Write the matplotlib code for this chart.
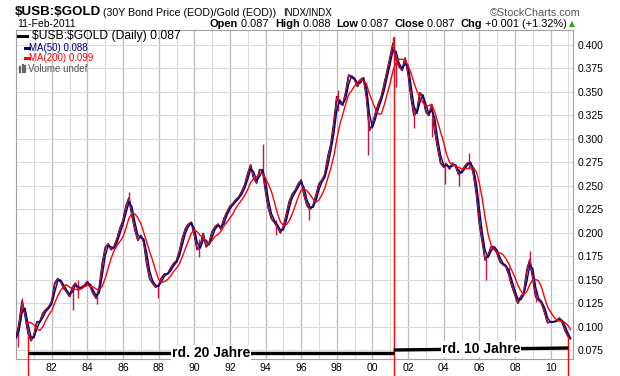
import numpy as np
import pandas as pd
import matplotlib
matplotlib.use("Agg")
import matplotlib.pyplot as plt
import matplotlib.dates as mdates
from matplotlib.lines import Line2D

plt.rcParams['font.family'] = ['Liberation Sans', 'DejaVu Sans']

# bimonthly closes of $USB:$GOLD, Jan 1980 .. Jan 2011
close = [
    0.088, 0.103, 0.127, 0.112, 0.093, 0.085,  # 1980
    0.091, 0.105, 0.105, 0.114, 0.118, 0.121,  # 1981
    0.127, 0.146, 0.151, 0.148, 0.141, 0.137,  # 1982
    0.132, 0.142, 0.146, 0.139, 0.142, 0.144,  # 1983
    0.148, 0.142, 0.135, 0.130, 0.142, 0.167,  # 1984
    0.184, 0.188, 0.182, 0.185, 0.194, 0.205,  # 1985
    0.213, 0.228, 0.237, 0.219, 0.203, 0.192,  # 1986
    0.197, 0.190, 0.167, 0.151, 0.146, 0.142,  # 1987
    0.144, 0.152, 0.156, 0.156, 0.162, 0.167,  # 1988
    0.170, 0.180, 0.194, 0.204, 0.209, 0.211,  # 1989
    0.198, 0.182, 0.185, 0.199, 0.185, 0.189,  # 1990
    0.201, 0.206, 0.209, 0.204, 0.215, 0.222,  # 1991
    0.228, 0.231, 0.235, 0.238, 0.244, 0.251,  # 1992
    0.263, 0.272, 0.258, 0.253, 0.267, 0.267,  # 1993
    0.244, 0.226, 0.215, 0.211, 0.206, 0.200,  # 1994
    0.206, 0.219, 0.233, 0.241, 0.245, 0.252,  # 1995
    0.256, 0.240, 0.229, 0.225, 0.229, 0.240,  # 1996
    0.252, 0.256, 0.262, 0.281, 0.294, 0.317,  # 1997
    0.345, 0.338, 0.336, 0.349, 0.368, 0.366,  # 1998
    0.363, 0.356, 0.363, 0.365, 0.345, 0.309,  # 1999
    0.315, 0.327, 0.337, 0.345, 0.359, 0.373,  # 2000
    0.388, 0.402, 0.384, 0.377, 0.373, 0.386,  # 2001
    0.370, 0.345, 0.325, 0.329, 0.349, 0.345,  # 2002
    0.329, 0.325, 0.336, 0.309, 0.290, 0.274,  # 2003
    0.270, 0.273, 0.268, 0.274, 0.271, 0.262,  # 2004
    0.265, 0.270, 0.274, 0.275, 0.263, 0.242,  # 2005
    0.210, 0.191, 0.171, 0.176, 0.185, 0.185,  # 2006
    0.178, 0.169, 0.166, 0.164, 0.155, 0.143,  # 2007
    0.134, 0.125, 0.132, 0.136, 0.160, 0.171,  # 2008
    0.152, 0.132, 0.128, 0.125, 0.115, 0.104,  # 2009
    0.105, 0.105, 0.106, 0.109, 0.104, 0.095,  # 2010
    0.089,                                     # 2011
]
last_date = "2011-02-11"
last_close = 0.087

# daily spikes visible in the chart: date, low, high
spike_dates = ["1980-02-01", "1980-05-01", "1983-03-01", "1983-07-01", "1984-07-15",
               "1986-05-01", "1987-12-15", "1990-04-01", "1993-11-15", "1994-08-01",
               "1996-06-01", "1998-02-01", "1999-10-01", "2001-03-01", "2001-05-01",
               "2002-05-01", "2003-05-01", "2004-02-01", "2004-11-01", "2005-06-01",
               "2006-05-15", "2007-09-01", "2008-11-01", "2009-03-01"]
spike_low = [0.078, 0.115, 0.118, 0.130, 0.124, 0.228, 0.130, 0.174, 0.262, 0.198,
             0.214, 0.330, 0.283, 0.392, 0.355, 0.312, 0.302, 0.252, 0.250, 0.268,
             0.150, 0.150, 0.160, 0.126]
spike_high = [0.095, 0.130, 0.140, 0.150, 0.138, 0.243, 0.146, 0.193, 0.294, 0.214,
              0.232, 0.352, 0.318, 0.409, 0.386, 0.335, 0.322, 0.275, 0.268, 0.285,
              0.172, 0.163, 0.180, 0.140]

tick_years = [1982, 1984, 1986, 1988, 1990, 1992, 1994, 1996, 1998, 2000,
              2002, 2004, 2006, 2008, 2010]
y_ticks = [0.075, 0.100, 0.125, 0.150, 0.175, 0.200, 0.225, 0.250, 0.275,
           0.300, 0.325, 0.350, 0.375, 0.400]

# hand-drawn annotation periods
marks = ["1980-09-05", "2001-03-10", "2011-01-01"]
mark_tops = [0.090, 0.409, 0.089]
span_labels = ["rd. 20 Jahre", "rd. 10 Jahre"]
span_levels = [(0.0720, 0.0720), (0.0750, 0.0771)]

dates = pd.date_range("1980-01-01", periods=len(close), freq="2MS")
price = pd.Series(close, index=dates)
price[pd.Timestamp(last_date)] = last_close
ma50 = price.rolling(2, min_periods=1).mean()
ma200 = price.rolling(5, min_periods=5).mean()

W, H = 620, 376
fig = plt.figure(figsize=(W / 100, H / 100), dpi=100)
ax = fig.add_axes([16 / W, 1 - 359 / H, 557 / W, 329 / H])

ax.plot(price.index, price.values, color="black", lw=1.3, zorder=3)
ax.plot(price.index, price.values, color="#cc1144", lw=0.8, zorder=4)
ax.vlines(pd.to_datetime(spike_dates), spike_low, spike_high, color="#cc1144", lw=1.0, zorder=4)
ax.plot(ma50.index, ma50.values, color="#000080", lw=1.0, zorder=5)
ax.plot(ma200.index, ma200.values, color="#ff0000", lw=1.0, zorder=6)

ax.set_xlim(pd.Timestamp("1979-12-28"), pd.Timestamp("2011-04-05"))
ax.set_ylim(0.0654, 0.416)

ax.set_xticks(pd.to_datetime([f"{y}-01-01" for y in tick_years]))
ax.xaxis.set_minor_locator(mdates.YearLocator(1))
ax.xaxis.set_major_formatter(mdates.DateFormatter("%y"))
ax.yaxis.tick_right()
ax.set_yticks(y_ticks)
ax.yaxis.set_major_formatter(plt.FormatStrFormatter("%.3f"))
ax.tick_params(axis="both", length=0, labelsize=7.5, pad=3)
ax.tick_params(axis="x", which="minor", length=0)
ax.grid(True, which="major", axis="x", color="#bcbcbc", lw=0.9)
ax.grid(True, which="minor", axis="x", color="#dadada", lw=0.8)
ax.grid(True, which="major", axis="y", color="#dadada", lw=0.8)
for s in ax.spines.values():
    s.set_color("#a0a0a0")

# red period markers, running past the axis to the bottom of the image
m = pd.to_datetime(marks)
for d, top in zip(m, mark_tops):
    ax.plot([d, d], [top, 0.046], color="#ff0000", lw=1.0, clip_on=False, zorder=7)

fig.canvas.draw()
r = fig.canvas.get_renderer()


def fit(t, width_px):
    # shrink or grow a text so it spans the width seen in the reference
    w = t.get_window_extent(renderer=r).width
    t.set_fontsize(t.get_fontsize() * width_px / w)
    return t


for (a, b), (y0, y1), lab in zip(zip(m[:-1], m[1:]), span_levels, span_labels):
    ax.plot([a, b], [y0, y1], color="black", lw=2.4, zorder=8, solid_capstyle="butt")
    mid = a + (b - a) / 2
    t = ax.text(mid, (y0 + y1) / 2, lab, ha="center", va="center", fontsize=11,
                fontweight="bold",
                bbox=dict(facecolor="white", edgecolor="none", pad=0.8), zorder=9)
    fit(t, 78)


def put(x_px, y_px, s, width_px=None, **kw):
    t = fig.text(x_px / W, 1 - y_px / H, s, va="center", **kw)
    if width_px:
        fit(t, width_px)
    return x_px + t.get_window_extent(renderer=r).width


# header
put(15, 12, "\\$USB:\\$GOLD", 86, fontsize=12, fontweight="bold")
put(103, 12.5, "(30Y Bond Price (EOD)/Gold (EOD))", 173, fontsize=9)
put(283, 12.5, "INDX/INDX", 49, fontsize=7.5)
put(490, 12.5, "\u00a9StockCharts.com", 90, fontsize=8, color="#555555")
put(17, 24, "11-Feb-2011", 58, fontsize=8)

parts = [("Open", True), (" 0.087  ", False), ("High", True), (" 0.088  ", False),
         ("Low", True), (" 0.087  ", False), ("Close", True), (" 0.087  ", False),
         ("Chg", True), (" +0.001 (+1.32%)", False)]
x = 210
for txt, bold in parts:
    x = put(x, 24, txt, fontsize=7.9, fontweight="bold" if bold else "normal")
put(x + 2, 24, "\u25b2", fontsize=5.5, color="#22aa22", family=["DejaVu Sans"])

# legend in the upper left of the plot
fig.add_artist(Line2D([18 / W, 27 / W], [1 - 36 / H] * 2, color="black", lw=2.2))
fig.add_artist(Line2D([25 / W, 29 / W], [1 - 47.7 / H] * 2, color="#000080", lw=2.2))
fig.add_artist(Line2D([25 / W, 29 / W], [1 - 58.3 / H] * 2, color="#ff0000", lw=2.2))
for bx, bh in zip([20, 22.5, 25], [5, 7, 6]):
    fig.add_artist(Line2D([bx / W] * 2, [1 - 72 / H, 1 - (72 - bh) / H], color="#666666", lw=1.6))
put(32, 36, "\\$USB:\\$GOLD (Daily) 0.087", 148, fontsize=8.5)
put(29.5, 47.7, "MA(50) 0.088", fontsize=7, color="#000080")
put(29.5, 58.3, "MA(200) 0.099", fontsize=7, color="#ff0000")
put(28, 69, "Volume undef", fontsize=7, color="#555555")

fig.savefig("out.png", dpi=100)
